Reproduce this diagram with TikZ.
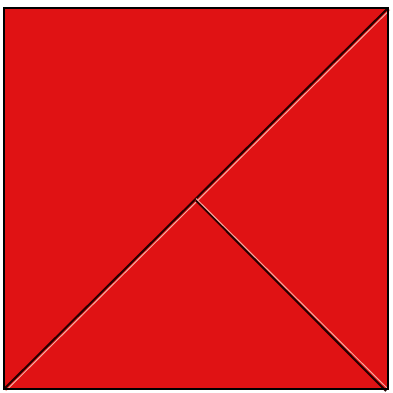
\documentclass[tikz,border=0pt]{standalone}
\begin{document}
\begin{tikzpicture}[x=1pt,y=-1pt]
\definecolor{sqred}{RGB}{224,18,20}
\definecolor{hilite}{RGB}{245,170,160}
\tikzset{darkline/.style={draw=black!85!red,line width=2pt},lightline/.style={draw=hilite,line width=1pt}}
\useasboundingbox (0,0) rectangle (393,392);
\fill[white] (0,0) rectangle (393,392);
\coordinate (tl) at (4,8);
\coordinate (tr) at (388,8);
\coordinate (bl) at (4,389);
\coordinate (br) at (388,389);
\coordinate (c) at (196,198.5);
\fill[sqred] (tl) rectangle (br);
\draw[lightline] ([shift={(1.8,1.8)}]tr) -- ([shift={(1.8,1.8)}]bl);
\draw[darkline] (tr) -- (bl);
\draw[darkline] ([shift={(0,2)}]c) -- ([shift={(-2,2)}]br);
\draw[lightline] (c) -- (br);
\draw[black,line width=2pt] (tl) rectangle (br);
\end{tikzpicture}
\end{document}
